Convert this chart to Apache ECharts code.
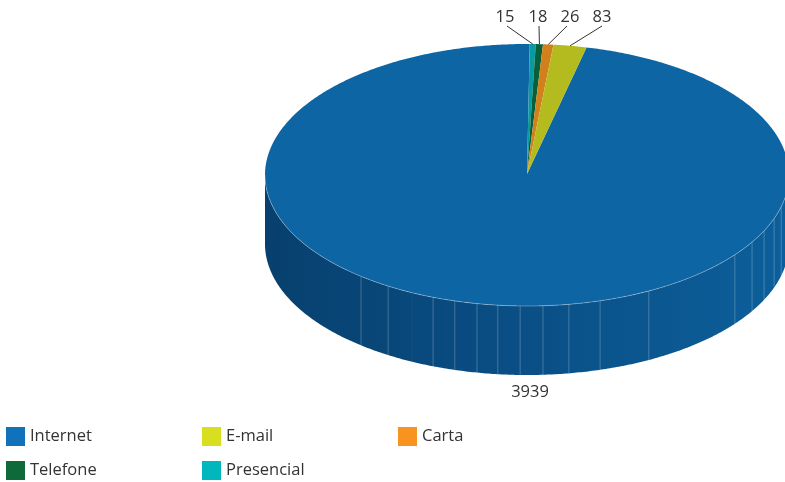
<!DOCTYPE html>
<html>
<head>
<meta charset="utf-8">
<style>
html, body { margin: 0; padding: 0; background: #fff; }
#chart { width: 785px; height: 482px; }
</style>
<script src="https://cdn.jsdelivr.net/npm/echarts@6/dist/echarts.min.js"></script>
</head>
<body>
<div id="chart"></div>
<script>
// values, in drawing order clockwise from the top of the disc
const categories = ['Presencial', 'Telefone', 'Carta', 'E-mail', 'Internet'];
const values = [15, 18, 26, 83, 3939];

// legend reading order
const legendOrder = ['Internet', 'E-mail', 'Carta', 'Telefone', 'Presencial'];
const legendColors = ['#00b7bd', '#0f6a3a', '#f7931e', '#d7df1f', '#0f72ba'];
const topColors = ['#0a9aa2', '#07603a', '#d2801b', '#b3bb1f', '#0e65a3'];

// disc geometry
const cx = 527, cy = 175, rx = 262, ry = 131, depth = 69;
const startAngle = 0.6;
const font = '16.5px "Open Sans", sans-serif';

// label anchors and leader ends
const labelAt = {
    Presencial: [505, 17, 507, 26],
    Telefone: [538, 17, 539, 26],
    Carta: [570, 17, 567, 26],
    'E-mail': [602, 17, 602, 26],
    Internet: [530, 392]
};
// light seams on the side wall, degrees clockwise from top
const wallSeams = [104, 109.4, 115.2, 120.8, 127.5, 152.3, 163.8, 170.8, 176.5, 181.5, 186.4, 191, 196, 201, 206, 212, 219.3];

const total = values.reduce((a, b) => a + b, 0);

function rim(deg, dy) {
    const t = deg * Math.PI / 180;
    return [cx + rx * Math.sin(t), cy - ry * Math.cos(t) + (dy || 0)];
}

function arcPoints(from, to, dy) {
    const pts = [];
    const n = Math.max(2, Math.ceil(Math.abs(to - from) * 2));
    for (let i = 0; i <= n; i++) {
        pts.push(rim(from + (to - from) * i / n, dy));
    }
    return pts;
}

function sliceRange(index) {
    let a = startAngle;
    for (let i = 0; i < index; i++) a += values[i] / total * 360;
    return [a, a + values[index] / total * 360];
}

function renderSlice(index) {
    const [a0, a1] = sliceRange(index);
    const name = categories[index];
    const children = [];

    // front wall only where the slice crosses the lower half
    const w0 = Math.max(a0, 90), w1 = Math.min(a1, 270);
    if (w1 > w0) {
        children.push({
            type: 'polygon',
            shape: { points: arcPoints(w0, w1, 0).concat(arcPoints(w1, w0, depth)) },
            style: {
                fill: new echarts.graphic.LinearGradient(cx - rx, 0, cx + rx, 0, [
                    { offset: 0, color: '#07406e' },
                    { offset: 0.5, color: '#0a4f86' },
                    { offset: 1, color: '#0c5f9b' }
                ], true)
            }
        });
        wallSeams.filter(d => d > w0 && d < w1).forEach(d => {
            const p = rim(d, 0), q = rim(d, depth);
            children.push({
                type: 'line',
                shape: { x1: p[0], y1: p[1], x2: q[0], y2: q[1] },
                style: { stroke: d === 206 ? 'rgba(255,255,255,0.05)' : 'rgba(255,255,255,0.24)', lineWidth: 1 }
            });
        });
    }

    children.push({
        type: 'polygon',
        shape: { points: [[cx, cy - 1]].concat(arcPoints(a0, a1, 0)) },
        style: { fill: topColors[index] }
    });

    if (w1 > w0) {
        children.push({
            type: 'polyline',
            shape: { points: arcPoints(w0, w1, 0) },
            style: { fill: null, stroke: 'rgba(255,255,255,0.3)', lineWidth: 1 }
        });
    }

    const at = labelAt[name];
    if (at.length > 2) {
        const m = rim((a0 + a1) / 2, 0);
        children.push({
            type: 'line',
            shape: { x1: at[2], y1: at[3], x2: m[0], y2: m[1] },
            style: { stroke: '#333', lineWidth: 1 }
        });
    }
    children.push({
        type: 'text',
        style: {
            text: String(values[index]),
            x: at[0], y: at[1],
            font: font, fill: '#333',
            align: 'center', verticalAlign: 'middle'
        }
    });
    return { type: 'group', children: children };
}

const legendSpots = [[6, 427], [202, 427], [398, 427], [6, 461], [202, 461]];

const myChart = echarts.init(document.getElementById('chart'), null, { renderer: 'canvas' });
const option = {
    backgroundColor: '#fff',
    animation: false,
    legend: legendOrder.map((name, i) => ({
        data: [name],
        left: legendSpots[i][0],
        top: legendSpots[i][1],
        padding: 0,
        icon: 'rect',
        itemWidth: 19,
        itemHeight: 19,
        selectedMode: false,
        textStyle: { fontFamily: '"Open Sans", sans-serif', fontSize: 16.5, color: '#333' }
    })),
    // big slice first so the small ones and their leaders sit on top
    series: categories.map((name, i) => ({
        type: 'custom',
        name: name,
        coordinateSystem: 'none',
        silent: true,
        z: i === 4 ? 1 : 2,
        itemStyle: { color: legendColors[i] },
        data: [values[i]],
        renderItem: () => renderSlice(i)
    }))
};
myChart.setOption(option);
</script>
</body>
</html>
